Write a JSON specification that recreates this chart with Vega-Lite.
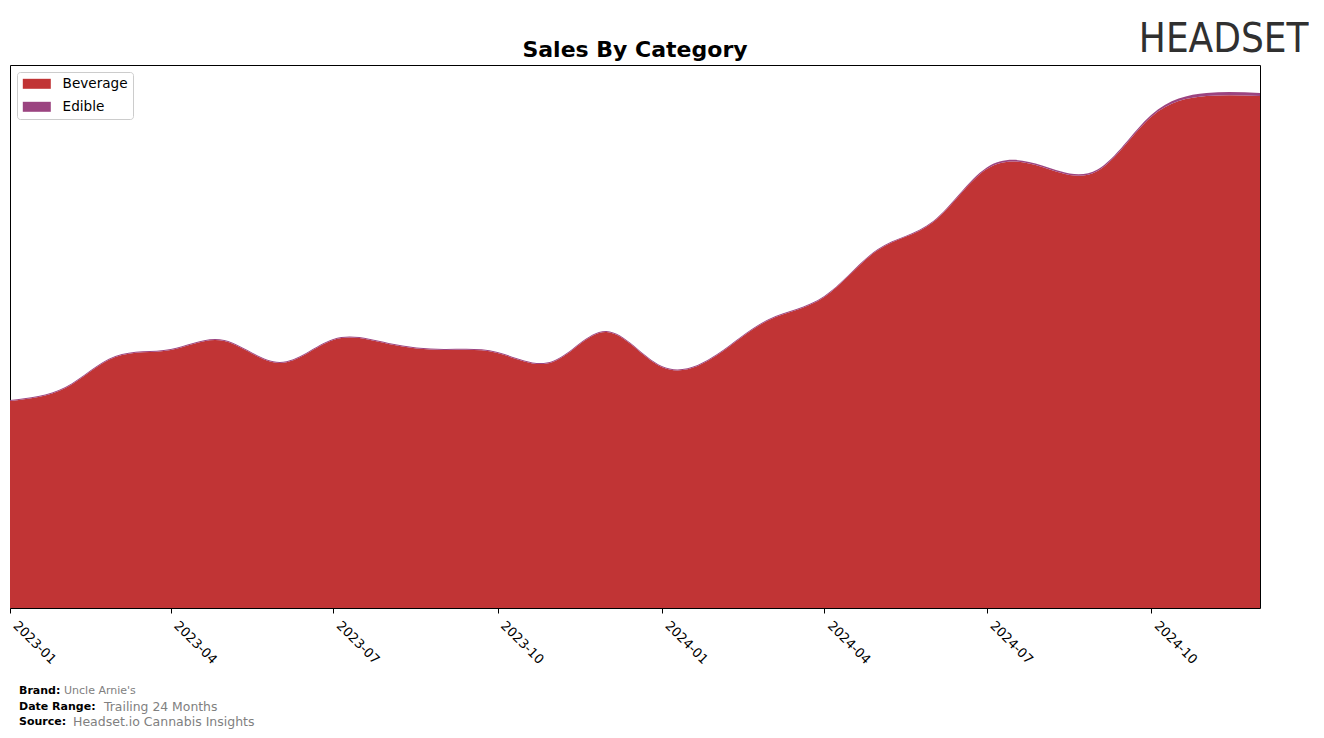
{
  "$schema": "https://vega.github.io/schema/vega-lite/v6.json",
  "padding": {"left": 9, "top": 19, "right": 0, "bottom": 0},
  "background": "white",
  "title": {"text": "HEADSET", "anchor": "end", "fontSize": 40, "font": "DejaVu Sans Condensed, DejaVu Sans", "fontWeight": "normal", "color": "#303030", "dx": 48, "offset": -21},
  "config": {"font": "DejaVu Sans", "view": {"stroke": null}},
  "spacing": 18,
  "vconcat": [
    {
      "width": 1250,
      "height": 543,
      "title": {"text": "Sales By Category", "fontSize": 22, "fontWeight": "bold", "color": "black", "anchor": "middle", "offset": 3},
      "view": {"stroke": "black", "strokeWidth": 1},
      "data": {"values": [
        {"month": "2023-01-01T00:00:00", "category": "Beverage", "sales": 207},
        {"month": "2023-02-01T00:00:00", "category": "Beverage", "sales": 220},
        {"month": "2023-03-01T00:00:00", "category": "Beverage", "sales": 251},
        {"month": "2023-04-01T00:00:00", "category": "Beverage", "sales": 258},
        {"month": "2023-05-01T00:00:00", "category": "Beverage", "sales": 267},
        {"month": "2023-06-01T00:00:00", "category": "Beverage", "sales": 245},
        {"month": "2023-07-01T00:00:00", "category": "Beverage", "sales": 268},
        {"month": "2023-08-01T00:00:00", "category": "Beverage", "sales": 264},
        {"month": "2023-09-01T00:00:00", "category": "Beverage", "sales": 258},
        {"month": "2023-10-01T00:00:00", "category": "Beverage", "sales": 255},
        {"month": "2023-11-01T00:00:00", "category": "Beverage", "sales": 246},
        {"month": "2023-12-01T00:00:00", "category": "Beverage", "sales": 276},
        {"month": "2024-01-01T00:00:00", "category": "Beverage", "sales": 241},
        {"month": "2024-02-01T00:00:00", "category": "Beverage", "sales": 253},
        {"month": "2024-03-01T00:00:00", "category": "Beverage", "sales": 288},
        {"month": "2024-04-01T00:00:00", "category": "Beverage", "sales": 311},
        {"month": "2024-05-01T00:00:00", "category": "Beverage", "sales": 358},
        {"month": "2024-06-01T00:00:00", "category": "Beverage", "sales": 386},
        {"month": "2024-07-01T00:00:00", "category": "Beverage", "sales": 439},
        {"month": "2024-08-01T00:00:00", "category": "Beverage", "sales": 441},
        {"month": "2024-09-01T00:00:00", "category": "Beverage", "sales": 437},
        {"month": "2024-10-01T00:00:00", "category": "Beverage", "sales": 491},
        {"month": "2024-11-01T00:00:00", "category": "Beverage", "sales": 512},
        {"month": "2024-12-01T00:00:00", "category": "Beverage", "sales": 512},
        {"month": "2023-01-01T00:00:00", "category": "Edible", "sales": 1},
        {"month": "2023-02-01T00:00:00", "category": "Edible", "sales": 1},
        {"month": "2023-03-01T00:00:00", "category": "Edible", "sales": 1},
        {"month": "2023-04-01T00:00:00", "category": "Edible", "sales": 1},
        {"month": "2023-05-01T00:00:00", "category": "Edible", "sales": 1},
        {"month": "2023-06-01T00:00:00", "category": "Edible", "sales": 1},
        {"month": "2023-07-01T00:00:00", "category": "Edible", "sales": 1},
        {"month": "2023-08-01T00:00:00", "category": "Edible", "sales": 1},
        {"month": "2023-09-01T00:00:00", "category": "Edible", "sales": 1},
        {"month": "2023-10-01T00:00:00", "category": "Edible", "sales": 1},
        {"month": "2023-11-01T00:00:00", "category": "Edible", "sales": 1},
        {"month": "2023-12-01T00:00:00", "category": "Edible", "sales": 1},
        {"month": "2024-01-01T00:00:00", "category": "Edible", "sales": 1},
        {"month": "2024-02-01T00:00:00", "category": "Edible", "sales": 1},
        {"month": "2024-03-01T00:00:00", "category": "Edible", "sales": 1},
        {"month": "2024-04-01T00:00:00", "category": "Edible", "sales": 1},
        {"month": "2024-05-01T00:00:00", "category": "Edible", "sales": 1},
        {"month": "2024-06-01T00:00:00", "category": "Edible", "sales": 1},
        {"month": "2024-07-01T00:00:00", "category": "Edible", "sales": 1.5},
        {"month": "2024-08-01T00:00:00", "category": "Edible", "sales": 1.5},
        {"month": "2024-09-01T00:00:00", "category": "Edible", "sales": 1.5},
        {"month": "2024-10-01T00:00:00", "category": "Edible", "sales": 2},
        {"month": "2024-11-01T00:00:00", "category": "Edible", "sales": 3},
        {"month": "2024-12-01T00:00:00", "category": "Edible", "sales": 3}
      ]},
      "mark": {"type": "area", "interpolate": "natural"},
      "encoding": {
        "x": {
          "field": "month", "type": "temporal",
          "scale": {"nice": false},
          "axis": {"title": null, "tickCount": {"interval": "month", "step": 3}, "format": "%Y-%m", "labelAngle": 45, "labelAlign": "left", "labelBaseline": "bottom", "labelFontSize": 13, "labelColor": "black", "tickColor": "black", "tickSize": 5, "domain": false, "grid": false, "labelPadding": 15, "labelOverlap": false, "labelFlush": false}
        },
        "y": {"field": "sales", "type": "quantitative", "stack": "zero", "scale": {"domain": [0, 543], "nice": false}, "axis": null},
        "order": {"field": "category", "sort": "ascending"},
        "color": {
          "field": "category", "type": "nominal",
          "scale": {"domain": ["Beverage", "Edible"], "range": ["#c13435", "#9b4480"]},
          "legend": {"title": null, "orient": "top-left", "offset": 7, "padding": 5, "strokeColor": "#cccccc", "fillColor": "rgba(255,255,255,0.8)", "cornerRadius": 3, "labelFontSize": 13.6, "labelColor": "black", "symbolType": "M-1,-0.833H3.667V0.833H-1Z", "symbolSize": 144, "symbolStrokeWidth": 0, "symbolOpacity": 1, "rowPadding": 8, "labelOffset": 27}
        }
      }
    },
    {
      "width": 1250,
      "height": 31,
      "view": {"stroke": null},
      "data": {"values": [
        {"row": 1, "key": "Brand:", "value": "Uncle Arnie's"},
        {"row": 2, "key": "Date Range:", "value": "Trailing 24 Months"},
        {"row": 3, "key": "Source:", "value": "Headset.io Cannabis Insights"}
      ]},
      "encoding": {"y": {"field": "row", "type": "ordinal", "axis": null, "scale": {"type": "point", "padding": 0}}},
      "layer": [
        {"mark": {"type": "text", "align": "left", "baseline": "middle", "fontWeight": "bold", "fontSize": 11, "color": "black", "x": 9}, "encoding": {"text": {"field": "key"}}},
        {"transform": [{"filter": "datum.row == 1"}], "mark": {"type": "text", "align": "left", "baseline": "middle", "fontSize": 11, "color": "#808080", "x": 54}, "encoding": {"text": {"field": "value"}}},
        {"transform": [{"filter": "datum.row == 2"}], "mark": {"type": "text", "align": "left", "baseline": "middle", "fontSize": 12.4, "color": "#808080", "x": 94}, "encoding": {"text": {"field": "value"}}},
        {"transform": [{"filter": "datum.row == 3"}], "mark": {"type": "text", "align": "left", "baseline": "middle", "fontSize": 12.5, "color": "#808080", "x": 63}, "encoding": {"text": {"field": "value"}}}
      ]
    }
  ]
}
